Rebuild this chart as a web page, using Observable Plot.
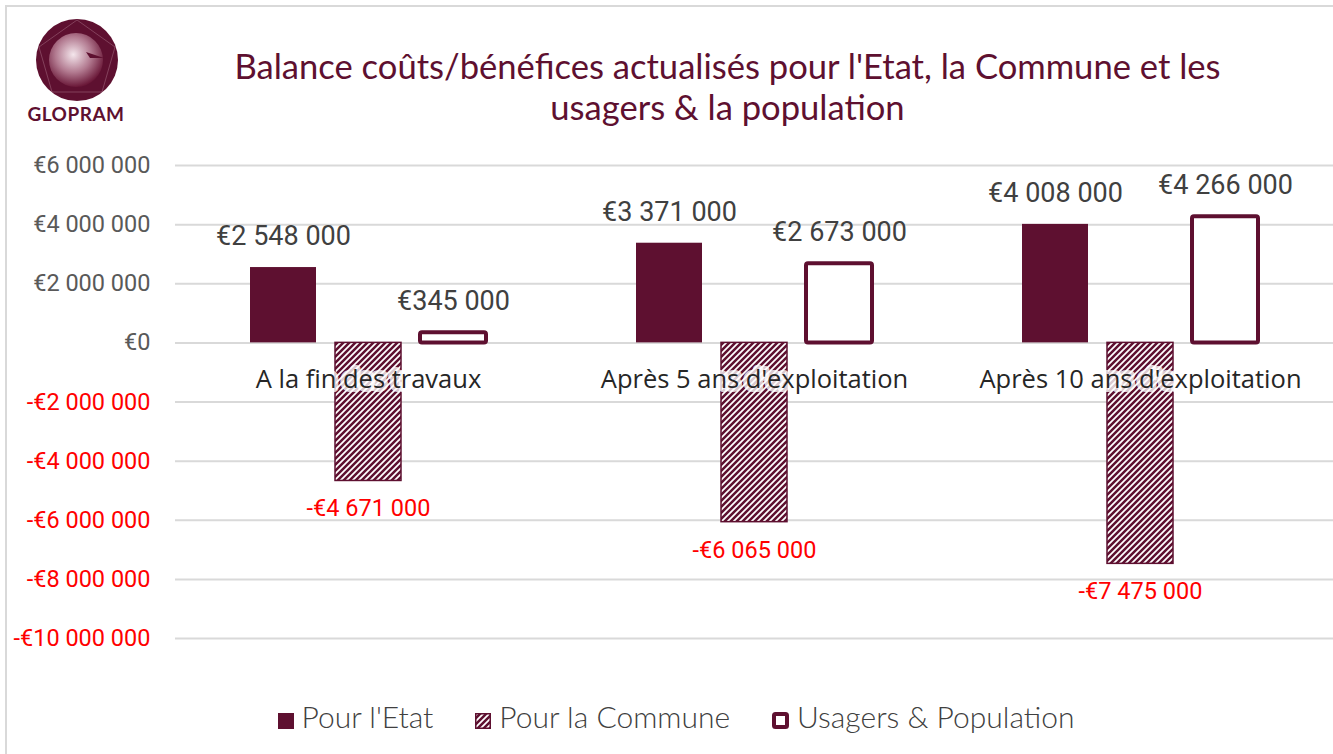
<!DOCTYPE html>
<html>
<head>
<meta charset="utf-8">
<script src="https://cdn.jsdelivr.net/npm/d3@7"></script>
<script src="https://cdn.jsdelivr.net/npm/@observablehq/plot@0.6"></script>
<style>
  html, body { margin: 0; padding: 0; background: #fff; }
  #page { position: relative; width: 1333px; height: 754px; overflow: hidden; background: #fff; }
  #frame { position: absolute; left: 5px; top: 5px; width: 1340px; height: 760px; border: 2px solid #d9d9d9; box-sizing: border-box; }
  #title { position: absolute; left: 0; top: 45px; width: 1455px; text-align: center; font-family: Lato, sans-serif; font-size: 34.6px; line-height: 41px; color: #5e1030; }
  #chart { position: absolute; left: 0; top: 140px; }
  #legend { position: absolute; left: 0; top: 698px; width: 1352px; text-align: center; font-family: Lato, sans-serif; font-weight: 300; font-size: 30px; color: #404040; white-space: nowrap; }
  #legend span.item { display: inline-block; margin: 0 21px; }
  #legend svg { vertical-align: -1px; margin-right: 8px; }
  #logo { position: absolute; left: 20px; top: 14px; }
</style>
</head>
<body>
<div id="page">
  <div id="frame"></div>
  <svg id="logo" width="120" height="115" viewBox="0 0 120 115">
    <defs>
      <radialGradient id="lg1" cx="0.45" cy="0.4" r="0.6">
        <stop offset="0" stop-color="#f4e6ec"/>
        <stop offset="0.55" stop-color="#b27a90"/>
        <stop offset="1" stop-color="#6a1838"/>
      </radialGradient>
    </defs>
    <circle cx="57" cy="46" r="41" fill="#5e1030"/>
    <circle cx="56" cy="46" r="27" fill="url(#lg1)"/>
    <path d="M66,38 L84,44 L70,44 Z" fill="#5e1030"/>
    <path d="M57,6 L95,33 L82,78 L32,78 L19,33 Z" fill="none" stroke="#c99aac" stroke-opacity="0.35" stroke-width="1"/>
    <text x="56" y="107" text-anchor="middle" font-family="Lato, sans-serif" font-weight="bold" font-size="19" fill="#5e1030" letter-spacing="0.5">GLOPRAM</text>
  </svg>
  <div id="title">Balance coûts/bénéfices actualisés pour l'Etat, la Commune et les<br>usagers &amp; la population</div>
  <div id="chart"></div>
  <div id="legend"></div>
</div>
<svg width="0" height="0" style="position:absolute">
  <defs>
    <pattern id="hatch" patternUnits="userSpaceOnUse" width="6" height="6">
      <rect width="6" height="6" fill="#ffffff"/>
      <path d="M-1,7 L7,-1 M-4,4 L4,-4 M2,10 L10,2" stroke="#5e1030" stroke-width="2.5"/>
    </pattern>
  </defs>
</svg>
<script>
const categories = ["A la fin des travaux", "Après 5 ans d'exploitation", "Après 10 ans d'exploitation"];
const series = ["Pour l'Etat", "Pour la Commune", "Usagers & Population"];
const etat = [2548000, 3371000, 4008000];
const commune = [-4671000, -6065000, -7475000];
const usagers = [345000, 2673000, 4266000];
const yTicks = [6000000, 4000000, 2000000, 0, -2000000, -4000000, -6000000, -8000000, -10000000];

const maroon = "#5e1030";
const rows = [];
categories.forEach((c, i) => {
  rows.push({category: c, series: series[0], value: etat[i]});
  rows.push({category: c, series: series[1], value: commune[i]});
  rows.push({category: c, series: series[2], value: usagers[i]});
});
const money = v => (v < 0 ? "-" : "") + "€" + d3.format(",")(Math.abs(v)).replace(/,/g, " ");
const pos = rows.filter(d => d.value >= 0);
const neg = rows.filter(d => d.value < 0);

const chart = Plot.plot({
  width: 1333,
  height: 530,
  marginLeft: 175,
  marginRight: 0,
  marginTop: 25,
  marginBottom: 32,
  fx: {domain: categories, padding: 0, axis: null},
  x: {domain: series, paddingInner: 0.22, paddingOuter: 0.88, axis: null},
  y: {domain: [-10000000, 6000000], axis: null},
  marks: [
    Plot.gridY(yTicks, {stroke: "#d9d9d9", strokeOpacity: 1, strokeWidth: 2}),
    Plot.axisY(yTicks.filter(t => t >= 0), {tickSize: 0, tickPadding: 25, tickFormat: money, fill: "#595959", fontSize: 23.5, fontFamily: "Roboto", label: null}),
    Plot.axisY(yTicks.filter(t => t < 0), {tickSize: 0, tickPadding: 25, tickFormat: money, fill: "#ff0000", fontSize: 23.5, fontFamily: "Roboto", label: null}),
    Plot.barY(rows.filter(d => d.series === series[0]), {fx: "category", x: "series", y: "value", fill: maroon}),
    Plot.barY(rows.filter(d => d.series === series[1]), {fx: "category", x: "series", y: "value", fill: "url(#hatch)", stroke: maroon, strokeWidth: 1.5}),
    Plot.barY(rows.filter(d => d.series === series[2]), {fx: "category", x: "series", y: "value", fill: "#ffffff", stroke: maroon, strokeWidth: 4, rx: 2}),
    Plot.text(categories, {fx: d => d, y: d => 0, text: d => d, dy: 37, fontSize: 25.5, fontFamily: "Open Sans", fill: "#262626", stroke: "#ffffff", strokeOpacity: 0.8, strokeWidth: 8}),
    Plot.text(pos, {fx: "category", x: "series", y: "value", text: d => money(d.value), dy: -31, fontSize: 27, fontFamily: "Roboto", fill: "#404040"}),
    Plot.text(neg, {fx: "category", x: "series", y: "value", text: d => money(d.value), dy: 28, fontSize: 23.5, fontFamily: "Roboto", fill: "#ff0000"})
  ]
});
document.getElementById("chart").appendChild(chart);

const legend = document.getElementById("legend");
const swatches = [
  `<svg width="16" height="16"><rect x="0" y="0" width="16" height="16" fill="${maroon}"/></svg>`,
  `<svg width="16" height="16"><rect x="0.75" y="0.75" width="14.5" height="14.5" fill="url(#hatch)" stroke="${maroon}" stroke-width="1.5"/></svg>`,
  `<svg width="17" height="17"><rect x="2" y="2" width="13" height="13" fill="#fff" stroke="${maroon}" stroke-width="4" rx="1.5"/></svg>`
];
series.forEach((s, i) => {
  const span = document.createElement("span");
  span.className = "item";
  span.innerHTML = swatches[i] + s;
  legend.appendChild(span);
});
</script>
</body>
</html>
